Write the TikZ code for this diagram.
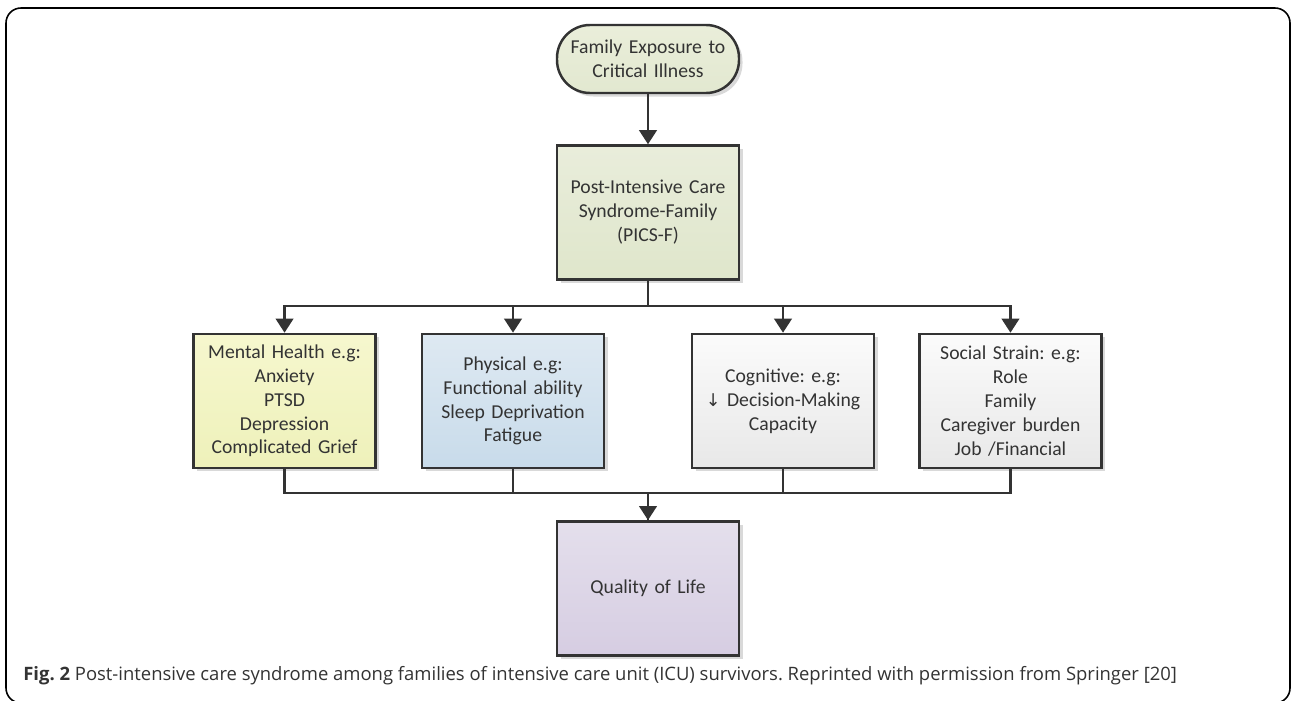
\documentclass[tikz,border=0pt]{standalone}
\usepackage{fontspec}
\setmainfont[WordSpace=0.8]{Carlito}
\newfontfamily\capfont{Open Sans}
\newfontfamily\symfont{DejaVu Sans}
\usepackage{xcolor}
\usetikzlibrary{shapes,arrows.meta,positioning,shadows,calc}
\frenchspacing

\definecolor{txtgray}{HTML}{333333}
\definecolor{linegray}{HTML}{333333}

\begin{document}
\begin{tikzpicture}[node distance=1cm]
\tikzstyle{box} = [rectangle, draw=linegray, line width=1.4pt, text=txtgray, text width=3.5cm, align=center, minimum width=3.64cm, minimum height=2.68cm, inner sep=0pt, font=\fontsize{11.2}{13.6}\selectfont, drop shadow={shadow xshift=0.07cm, shadow yshift=-0.07cm, fill=black!15, opacity=1}]
\tikzstyle{term} = [box, rounded corners=0.66cm, minimum height=1.36cm]
\tikzstyle{arrow} = [line width=1.3pt, draw=linegray, -{Triangle[width=10pt,length=8pt]}]
\tikzstyle{link} = [line width=1.3pt, draw=linegray]

\useasboundingbox (0,0) rectangle (25.84,-14);
\draw[line width=0.9pt, rounded corners=0.3cm] (0.12,-0.16) rectangle (25.8,-14.06);

\node[term, top color={rgb,255:red,234;green,238;blue,218}, bottom color={rgb,255:red,226;green,232;blue,208}] (fam) at (12.96,-1.18) {Family Exposure to\\Critical Illness};
\node[box, below=of fam, top color={rgb,255:red,233;green,237;blue,219}, bottom color={rgb,255:red,223;green,230;blue,203}] (pics) {Post-Intensive Care\\Syndrome-Family\\(PICS-F)};

\node[box, below=1.04cm of pics, xshift=-2.7cm, top color={rgb,255:red,222;green,233;blue,242}, bottom color={rgb,255:red,200;green,219;blue,234}] (phys) {Physical e.g:\\Functional ability\\Sleep Deprivation\\Fatigue};
\node[box, left=0.88cm of phys, top color={rgb,255:red,246;green,247;blue,206}, bottom color={rgb,255:red,238;green,241;blue,186}] (mental) {Mental Health e.g:\\Anxiety\\PTSD\\Depression\\Complicated Grief};
\node[box, below=1.04cm of pics, xshift=2.7cm, top color={rgb,255:red,251;green,251;blue,251}, bottom color={rgb,255:red,232;green,232;blue,232}] (cogn) {Cognitive: e.g:\\{\symfont\fontsize{10}{13.6}\selectfont ↓} Decision-Making\\Capacity};
\node[box, right=0.86cm of cogn, top color={rgb,255:red,251;green,251;blue,251}, bottom color={rgb,255:red,232;green,232;blue,232}] (social) {Social Strain: e.g:\\Role\\Family\\Caregiver burden\\Job /Financial};

\coordinate (rowbot) at (phys.south -| pics.south);
\node[box, below=1.02cm of rowbot, anchor=north, top color={rgb,255:red,228;green,223;blue,236}, bottom color={rgb,255:red,214;green,205;blue,226}] (qol) {Quality of Life};

\node[anchor=base west, text=txtgray, font=\capfont\fontsize{10.5}{12}\selectfont, inner sep=0pt] (caption) at (0.46,-13.6) {\textbf{Fig. 2} Post-intensive care syndrome among families of intensive care unit (ICU) survivors. Reprinted with permission from Springer [20]};

\draw[arrow] (fam) -- (pics);
\draw[arrow] (pics.south) -- ++(0,-0.5) -| (mental.north);
\draw[arrow] (pics.south) -- ++(0,-0.5) -| (phys.north);
\draw[arrow] (pics.south) -- ++(0,-0.5) -| (cogn.north);
\draw[arrow] (pics.south) -- ++(0,-0.5) -| (social.north);
\draw[link] (mental.south) -- ++(0,-0.47) -| (qol.north);
\draw[link] (social.south) -- ++(0,-0.47) -| (qol.north);
\draw[link] (phys.south) -- ++(0,-0.47);
\draw[link] (cogn.south) -- ++(0,-0.47);
\draw[arrow] ($(qol.north)+(0,0.55)$) -- (qol.north);
\end{tikzpicture}
\end{document}
